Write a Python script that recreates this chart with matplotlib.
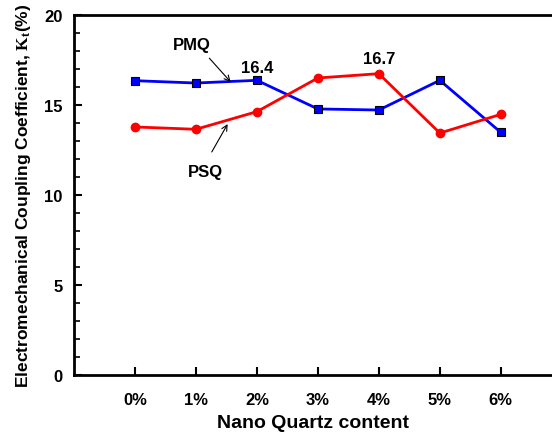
import matplotlib
matplotlib.use("Agg")
import matplotlib.pyplot as plt
from matplotlib.ticker import MultipleLocator

plt.rcParams['font.family'] = ['Liberation Sans', 'DejaVu Sans']
plt.rcParams['font.weight'] = 'bold'
plt.rcParams['mathtext.fontset'] = 'custom'
plt.rcParams['mathtext.rm'] = 'Liberation Serif'
plt.rcParams['mathtext.bf'] = 'Liberation Serif:bold'

# Data
categories = ['0%', '1%', '2%', '3%', '4%', '5%', '6%']
pmq = [16.35, 16.22, 16.37, 14.78, 14.72, 16.37, 13.48]
psq = [13.78, 13.65, 14.63, 16.50, 16.74, 13.44, 14.48]

fig = plt.figure(figsize=(5.52, 4.39), dpi=100)
ax = fig.add_axes([0.134, 0.1435, 0.866, 0.8201])
x = list(range(len(categories)))

ax.plot(x, pmq, '-', color='blue', linewidth=2, marker='s', markersize=6,
        markerfacecolor='blue', markeredgecolor='black', markeredgewidth=0.8)
ax.plot(x, psq, '-', color='red', linewidth=2, marker='o', markersize=6,
        markerfacecolor='red', markeredgecolor='red')

ax.set_xlim(-1, 6.84)
ax.set_ylim(0, 20)
ax.set_xticks(x)
ax.set_xticklabels(categories)
ax.yaxis.set_major_locator(MultipleLocator(5))
ax.yaxis.set_minor_locator(MultipleLocator(1))
ax.tick_params(axis='both', which='major', direction='in', length=6, width=1.5,
               labelsize=12, pad=8)
ax.tick_params(axis='x', which='major', pad=12)
ax.tick_params(axis='y', which='minor', direction='in', length=4, width=1.2)
ax.tick_params(axis='x', which='both', top=False)
ax.tick_params(axis='y', which='both', right=False)
ax.spines['right'].set_visible(False)
for s in ['left', 'bottom', 'top']:
    ax.spines[s].set_linewidth(2)

ax.set_xlabel('Nano Quartz content', fontsize=14, fontweight='bold', labelpad=5)
ax.set_ylabel(r'Electromechanical Coupling Coefficient, $\mathbf{K_t}$(%)',
              fontsize=12.5, fontweight='bold', labelpad=8)

arrow = dict(arrowstyle='->', color='black', lw=0.8, shrinkA=0, shrinkB=0)
ax.text(0.93, 18.35, 'PMQ', ha='center', va='center', fontsize=12, fontweight='bold')
ax.annotate('', xy=(1.57, 16.28), xytext=(1.22, 17.6), arrowprops=arrow)
ax.text(1.15, 11.33, 'PSQ', ha='center', va='center', fontsize=12, fontweight='bold')
ax.annotate('', xy=(1.52, 13.94), xytext=(1.26, 12.39), arrowprops=arrow)
ax.text(2, 17.1, '16.4', ha='center', va='center', fontsize=12, fontweight='bold')
ax.text(4, 17.6, '16.7', ha='center', va='center', fontsize=12, fontweight='bold')

fig.savefig('out.png', dpi=100)
